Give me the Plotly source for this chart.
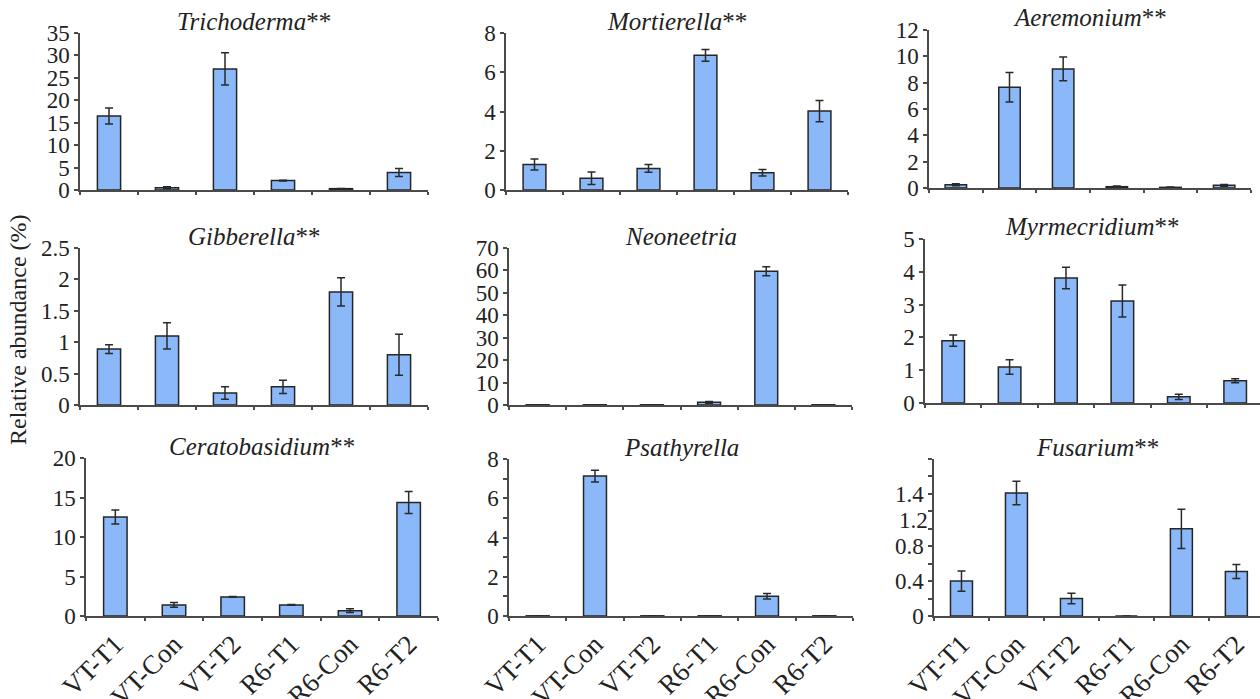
import plotly.graph_objects as go

# ---------------- data ----------------
categories = ["VT-T1", "VT-Con", "VT-T2", "R6-T1", "R6-Con", "R6-T2"]

genera = ["Trichoderma", "Mortierella", "Aeremonium",
          "Gibberella", "Neoneetria", "Myrmecridium",
          "Ceratobasidium", "Psathyrella", "Fusarium"]
significance = ["**", "**", "**", "**", "", "**", "**", "", "**"]

trichoderma = [16.5, 0.5, 27.0, 2.1, 0.3, 3.9]
trichoderma_err = [1.8, 0.2, 3.6, 0.1, 0.05, 0.9]

mortierella = [1.3, 0.6, 1.1, 6.86, 0.88, 4.02]
mortierella_err = [0.28, 0.32, 0.2, 0.3, 0.17, 0.54]

aeremonium = [0.25, 7.65, 9.04, 0.1, 0.05, 0.2]
aeremonium_err = [0.08, 1.12, 0.9, 0.05, 0.02, 0.06]

gibberella = [0.89, 1.10, 0.19, 0.29, 1.80, 0.80]
gibberella_err = [0.07, 0.21, 0.1, 0.105, 0.225, 0.325]

neoneetria = [0.1, 0.1, 0.1, 1.2, 59.6, 0.1]
neoneetria_err = [0.0, 0.0, 0.0, 0.4, 2.0, 0.0]

myrmecridium = [1.90, 1.10, 3.81, 3.11, 0.19, 0.68]
myrmecridium_err = [0.17, 0.22, 0.33, 0.49, 0.08, 0.06]

ceratobasidium = [12.54, 1.40, 2.42, 1.40, 0.68, 14.36]
ceratobasidium_err = [0.89, 0.3, 0.05, 0.05, 0.25, 1.4]

psathyrella = [0.01, 7.13, 0.01, 0.01, 1.01, 0.01]
psathyrella_err = [0.0, 0.3, 0.0, 0.0, 0.14, 0.0]

fusarium = [0.40, 1.41, 0.20, 0.0, 1.0, 0.51]
fusarium_err = [0.115, 0.135, 0.06, 0.0, 0.225, 0.08]

values = [trichoderma, mortierella, aeremonium, gibberella, neoneetria,
          myrmecridium, ceratobasidium, psathyrella, fusarium]
errors = [trichoderma_err, mortierella_err, aeremonium_err, gibberella_err,
          neoneetria_err, myrmecridium_err, ceratobasidium_err,
          psathyrella_err, fusarium_err]

# y-axis ticks (value positions and labels)
y_ticks = [
    ([0, 5, 10, 15, 20, 25, 30, 35], ["0", "5", "10", "15", "20", "25", "30", "35"]),
    ([0, 2, 4, 6, 8], ["0", "2", "4", "6", "8"]),
    ([0, 2, 4, 6, 8, 10, 12], ["0", "2", "4", "6", "8", "10", "12"]),
    ([0, 0.5, 1, 1.5, 2, 2.5], ["0", "0.5", "1", "1.5", "2", "2.5"]),
    ([0, 10, 20, 30, 40, 50, 60, 70], ["0", "10", "20", "30", "40", "50", "60", "70"]),
    ([0, 1, 2, 3, 4, 5], ["0", "1", "2", "3", "4", "5"]),
    ([0, 5, 10, 15, 20], ["0", "5", "10", "15", "20"]),
    ([0, 1, 2, 3, 4, 5, 6, 7, 8], ["0", "", "2", "", "4", "", "6", "", "8"]),
    ([0, 0.2, 0.4, 0.6, 0.8, 1.0, 1.2, 1.4, 1.6, 1.8],
     ["0", "", "0.4", "", "0.8", "", "", "1.4", "", ""]),
]
y_max = [35, 8, 12, 2.5, 70, 5, 20, 8, 1.8]
# the Fusarium panel prints its "1.2" label slightly below the 1.2 tick
fusarium_extra_label = ("1.2", 1.1)

# ---------------- layout geometry (pixels) ----------------
W, H = 1260, 699
# (x_left, x_right, y_top, y_zero, x_range_end)
boxes = [
    (80, 428, 33, 190, 5.5),
    (506, 848, 33, 190, 5.5),
    (929, 1251, 30, 188, 5.5),
    (80, 428, 248, 405, 5.5),
    (509, 852, 248, 405, 5.5),
    (925, 1260, 239, 403, 5.44),
    (86, 438, 458, 616, 5.5),
    (509, 853, 459, 616, 5.5),
    (934, 1260, 459, 616, 5.43),
]

FONT = "Liberation Serif, Times New Roman, serif"
TXT = "#222222"
AXC = "#4a4a4a"
BAR = "#8BB8F8"
EDGE = "#262626"

fig = go.Figure()
layout = dict(
    width=W, height=H,
    margin=dict(l=0, r=0, t=0, b=0, autoexpand=False),
    paper_bgcolor="white", plot_bgcolor="white",
    showlegend=False, bargap=0.6,
    font=dict(family=FONT, color=TXT, size=23),
)
annotations = []

for i in range(9):
    s = "" if i == 0 else str(i + 1)
    xl, xr, yt, yz, xend = boxes[i]
    fig.add_trace(go.Bar(
        x=categories, y=values[i],
        xaxis="x" + s, yaxis="y" + s,
        marker=dict(color=BAR, line=dict(color=EDGE, width=1.5)),
        error_y=dict(type="data", array=errors[i], color="#2a2a2a",
                     thickness=1.5, width=4),
        hoverinfo="x+y",
    ))
    row = i // 3
    layout["xaxis" + s] = dict(
        domain=[xl / W, xr / W], anchor="y" + s, type="category",
        range=[-0.5, xend], automargin=False,
        showline=True, linecolor=AXC, linewidth=1.5,
        ticks="outside", tickson="boundaries", ticklen=3, tickcolor=AXC,
        tickwidth=1.5,
        showticklabels=(row == 2), tickangle=-45,
        tickfont=dict(family=FONT, size=27, color=TXT),
        showgrid=False, zeroline=False,
    )
    tv, tt = y_ticks[i]
    layout["yaxis" + s] = dict(
        domain=[1 - yz / H, 1 - yt / H], anchor="x" + s,
        range=[0, y_max[i]], automargin=False,
        tickmode="array", tickvals=tv, ticktext=tt,
        showline=True, linecolor=AXC, linewidth=1.5,
        ticks="outside", ticklen=4, tickcolor=AXC, tickwidth=1.5,
        tickfont=dict(family=FONT, size=23, color=TXT),
        showgrid=False, zeroline=False,
    )
    annotations.append(dict(
        text="<i>" + genera[i] + "</i>" + significance[i],
        x=(xl + xr) / 2 / W, y=1 - (yt - 12) / H,
        xref="paper", yref="paper", xanchor="center", yanchor="middle",
        showarrow=False, font=dict(family=FONT, size=25, color=TXT),
    ))

annotations.append(dict(
    text=fusarium_extra_label[0], x=0, y=fusarium_extra_label[1],
    xref="x9 domain", yref="y9", xanchor="right", yanchor="middle",
    xshift=-4, showarrow=False, font=dict(family=FONT, size=23, color=TXT),
))

annotations.append(dict(
    text="Relative abundance (%)", textangle=-90,
    x=18 / W, y=1 - 330 / H, xref="paper", yref="paper",
    xanchor="center", yanchor="middle", showarrow=False,
    font=dict(family=FONT, size=24, color=TXT),
))
layout["annotations"] = annotations
fig.update_layout(**layout)

fig.write_html(
    "out.html",
    config={"displayModeBar": False},
    post_script="document.body.style.margin='0';"
                "document.body.style.overflow='hidden';",
)
